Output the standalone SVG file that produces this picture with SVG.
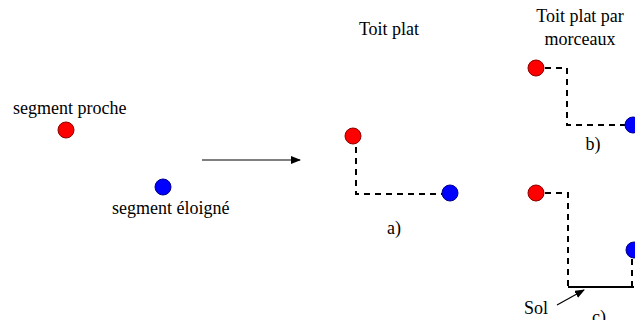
<svg xmlns="http://www.w3.org/2000/svg" width="635" height="320" viewBox="0 0 635 320">
<defs>
<style>
text{font-family:"Liberation Serif","Times New Roman",serif;font-size:18px;fill:#000}
.red{fill:#ff0000;stroke:#8b0000;stroke-width:1}
.blue{fill:#0000ff;stroke:#00008b;stroke-width:1}
.dash{fill:none;stroke:#000;stroke-width:2;stroke-dasharray:6,5}
.solid{fill:none;stroke:#000;stroke-width:2}
.arr{fill:none;stroke:#000;stroke-width:1.2}
</style>
<marker id="ah" markerWidth="10" markerHeight="8" refX="9" refY="4" orient="auto" markerUnits="userSpaceOnUse">
<path d="M0,0 L10,4 L0,8 Z" fill="#000"/>
</marker>
</defs>
<rect width="635" height="320" fill="#fff"/>
<g id="connectors">
<line class="arr" x1="202" y1="160" x2="300" y2="160" marker-end="url(#ah)"/>
<path class="dash" d="M356,147 V194 H442"/>
<path class="dash" d="M545,68 H567 V125 H626"/>
<path class="dash" d="M545,193 H568 V287"/>
<line class="solid" x1="568" y1="287" x2="634" y2="287"/>
<path class="dash" d="M632,259 V287"/>
<line class="arr" x1="557" y1="305" x2="584" y2="290" marker-end="url(#ah)"/>
</g>
<g id="legend">
<text x="13" y="114">segment proche</text>
<circle class="red" cx="66" cy="130" r="8"/>
<circle class="blue" cx="163" cy="187" r="8"/>
<text x="112" y="214">segment éloigné</text>
</g>
<g id="a">
<text x="389" y="35" text-anchor="middle">Toit plat</text>
<circle class="red" cx="353" cy="136" r="8"/>
<circle class="blue" cx="450" cy="193" r="8"/>
<text x="394" y="234" text-anchor="middle">a)</text>
</g>
<g id="b">
<text x="580" y="22" text-anchor="middle">Toit plat par</text>
<text x="580" y="45" text-anchor="middle">morceaux</text>
<circle class="red" cx="536" cy="68" r="8"/>
<circle class="blue" cx="633" cy="125" r="8"/>
<text x="593" y="150" text-anchor="middle">b)</text>
</g>
<g id="c">
<circle class="red" cx="536" cy="193" r="8"/>
<circle class="blue" cx="634" cy="250" r="8"/>
<text x="524" y="314">Sol</text>
<text x="592" y="323">c)</text>
</g>
</svg>
